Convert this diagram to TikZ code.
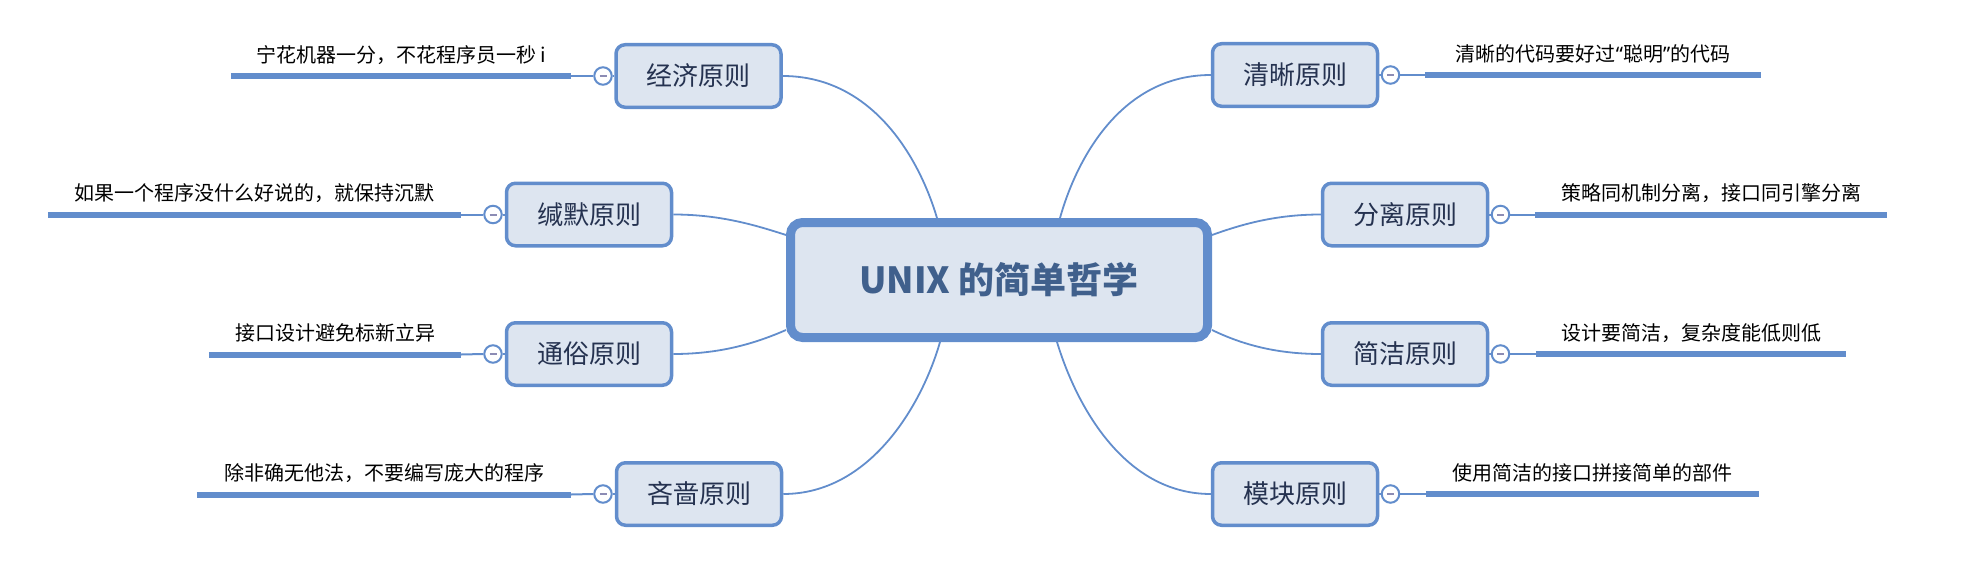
\documentclass[tikz,border=0pt]{standalone}
\usepackage{fontspec}
\setmainfont{Noto Sans CJK SC}
\newfontfamily\latinq{Noto Sans}
\usetikzlibrary{backgrounds}
\definecolor{mblue}{RGB}{98,141,204}
\definecolor{mfill}{RGB}{221,229,240}
\definecolor{roottext}{RGB}{64,96,140}
\definecolor{topictext}{RGB}{37,50,80}
\definecolor{mminus}{RGB}{140,140,180}
\tikzset{
  rootbox/.style={draw=mblue, line width=9pt, fill=mfill, rounded corners=12pt,
    minimum width=417pt, minimum height=115pt, inner sep=0pt,
    font=\fontsize{36}{40}\selectfont\bfseries, text=roottext},
  topicbox/.style={draw=mblue, line width=3.5pt, fill=mfill, rounded corners=9pt,
    minimum width=165pt, minimum height=62.5pt, inner sep=0pt,
    font=\fontsize{26}{30}\selectfont, text=topictext},
  foldmark/.style={circle, draw=mblue, line width=2pt, fill=white,
    minimum size=17.5pt, inner sep=0pt,
    path picture={\draw[mminus, line width=2pt]
      ([xshift=-3.5pt]path picture bounding box.center) --
      ([xshift=3.5pt]path picture bounding box.center);}},
  leaftext/.style={inner xsep=0pt, inner ysep=8.5pt, text height=15pt, text depth=5pt,
    anchor=south, font=\fontsize{20}{24}\selectfont, text=black},
  underline/.style={draw=mblue, line width=6pt},
  branch/.style={draw=mblue, line width=1.8pt},
  stub/.style={draw=mblue, line width=2pt}
}
\begin{document}
\begin{tikzpicture}[x=1pt,y=-1pt]
\useasboundingbox (0,0) rectangle (1982,578);

% root
\node[rootbox] (root) at (999,280) {UNIX 的简单哲学};

% topics
\node[topicbox] (t1) at (698.5,76) {经济原则};
\node[topicbox] (t2) at (589,214.5) {缄默原则};
\node[topicbox] (t3) at (589,354) {通俗原则};
\node[topicbox] (t4) at (699,494) {吝啬原则};
\node[topicbox] (r1) at (1295,75) {清晰原则};
\node[topicbox] (r2) at (1405,214.5) {分离原则};
\node[topicbox] (r3) at (1405,354) {简洁原则};
\node[topicbox] (r4) at (1295,494) {模块原则};

% fold markers
\node[foldmark] (c1) at (603,76) {};
\node[foldmark] (c2) at (493,214.5) {};
\node[foldmark] (c3) at (493,354) {};
\node[foldmark] (c4) at (603,494) {};
\node[foldmark] (d1) at (1390.5,75) {};
\node[foldmark] (d2) at (1500.5,214.5) {};
\node[foldmark] (d3) at (1500.5,354) {};
\node[foldmark] (d4) at (1390.5,494) {};

% leaves
\node[leaftext, minimum width=340pt] (l1) at (401,76) {宁花机器一分，不花程序员一秒 i};
\node[leaftext, minimum width=413pt] (l2) at (254.5,214.5) {如果一个程序没什么好说的，就保持沉默};
\node[leaftext, minimum width=252pt] (l3) at (335,354.5) {接口设计避免标新立异};
\node[leaftext, minimum width=374pt] (l4) at (384,494.5) {除非确无他法，不要编写庞大的程序};
\node[leaftext, minimum width=336pt] (q1) at (1593,75) {清晰的代码要好过{\latinq “}聪明{\latinq ”}的代码};
\node[leaftext, minimum width=352pt] (q2) at (1711,214.5) {策略同机制分离，接口同引擎分离};
\node[leaftext, minimum width=310pt] (q3) at (1691,354) {设计要简洁，复杂度能低则低};
\node[leaftext, minimum width=333pt] (q4) at (1592.5,494) {使用简洁的接口拼接简单的部件};

\foreach \n in {l1,l2,l3,l4,q1,q2,q3,q4}
  \draw[underline] (\n.south west) -- (\n.south east);

% stubs: leaf line -> fold marker -> topic
\foreach \l/\c/\t in {l1/c1/t1,l2/c2/t2,l3/c3/t3,l4/c4/t4}{
  \draw[stub] (\l.south east) -- (\c.west);
  \draw[stub] (\c.east) -- (\t.west);
}
\foreach \l/\c/\t in {q1/d1/r1,q2/d2/r2,q3/d3/r3,q4/d4/r4}{
  \draw[stub] (\l.south west) -- (\c.east);
  \draw[stub] (\c.west) -- (\t.east);
}

% branches behind nodes
\begin{scope}[on background layer]
\draw[branch] (t1.east) .. controls (870,76) and (918,154) .. ([xshift=-62pt]root.north);
\draw[branch] (t2.east) .. controls (720,214.5) and (755,225) .. ([yshift=45pt]root.west);
\draw[branch] (t3.east) .. controls (720,354) and (755,343.5) .. ([yshift=-50pt]root.west);
\draw[branch] (t4.east) .. controls (870,494) and (922,405) .. ([xshift=-59pt]root.south);
\draw[branch] (r1.west) .. controls (1124,75) and (1078,154) .. ([xshift=61pt]root.north);
\draw[branch] (r2.west) .. controls (1274,214.5) and (1240,225) .. ([yshift=45pt]root.east);
\draw[branch] (r3.west) .. controls (1274,354) and (1240,343.5) .. ([yshift=-50pt]root.east);
\draw[branch] (r4.west) .. controls (1124,494) and (1076,405) .. ([xshift=58pt]root.south);
\end{scope}
\end{tikzpicture}
\end{document}
